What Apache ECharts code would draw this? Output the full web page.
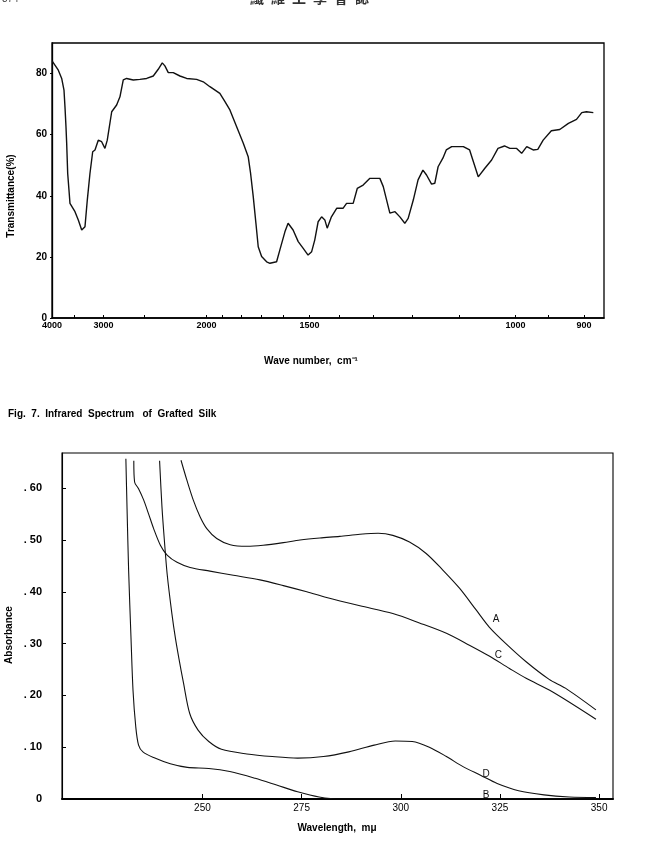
<!DOCTYPE html>
<html>
<head>
<meta charset="utf-8">
<script src="https://cdn.jsdelivr.net/npm/echarts@6/dist/echarts.min.js"></script>
<style>
  html, body { margin: 0; padding: 0; background: #fff; }
  #chart { width: 666px; height: 841px; }
</style>
</head>
<body>
<div id="chart"></div>
<script>
// ---- Fig. 7: IR spectrum (x read in wave number, plotted linear in wavelength) ----
const irWavenumber = [3990, 3967, 3843, 3764, 3712, 3690, 3668, 3653, 3631, 3604, 3583, 3482, 3418, 3355, 3326, 3296, 3256, 3211, 3166, 3129,
  3078, 3027, 2979, 2946, 2885, 2820, 2778, 2737, 2697, 2621, 2549, 2480, 2416, 2370, 2334, 2311, 2282, 2241, 2188, 2137,
  2066, 2021, 1978, 1917, 1887, 1859, 1822, 1787, 1762, 1750, 1737, 1724, 1713, 1697, 1674, 1659, 1630, 1616, 1595, 1582,
  1562, 1542, 1523, 1505, 1492, 1481, 1469, 1457, 1446, 1438, 1424, 1407, 1387, 1376, 1356, 1344, 1327, 1308, 1281, 1272,
  1255, 1242, 1230, 1218, 1210, 1198, 1187, 1176, 1168, 1157, 1150, 1143, 1133, 1126, 1115, 1092, 1080, 1074, 1064, 1052,
  1040, 1029, 1018, 1009, 998, 990, 982, 972, 965, 957, 945, 933, 921, 910, 903, 897, 888];
const irTransmittance = [84.0, 83.5, 81.1, 78.4, 74.6, 69.1, 62.6, 57.2, 47.3, 41.9, 37.5, 34.8, 32.1, 28.8, 28.2, 29.9, 38.6, 47.3, 54.4, 55.0,
  58.2, 57.7, 55.5, 58.2, 67.5, 69.7, 72.4, 77.9, 78.4, 77.9, 78.1, 78.4, 79.2, 81.4, 83.5, 82.5, 80.3, 80.3, 79.2, 78.4,
  78.1, 77.3, 75.7, 73.5, 70.8, 68.1, 62.6, 57.2, 52.8, 47.3, 39.7, 31.0, 23.3, 20.1, 18.4, 17.9, 18.4, 22.3, 28.2, 31.0,
  28.8, 25.0, 22.8, 20.6, 21.7, 25.5, 31.5, 33.1, 32.1, 29.4, 33.1, 35.9, 35.9, 37.5, 37.5, 42.4, 43.5, 45.7, 45.7, 43.0,
  34.3, 34.8, 33.1, 31.0, 32.6, 38.6, 45.2, 48.4, 46.8, 43.8, 44.1, 49.5, 52.3, 55.0, 56.1, 56.1, 55.0, 51.7, 46.2, 49.0,
  51.7, 55.5, 56.3, 55.5, 55.5, 53.9, 56.1, 55.0, 55.2, 58.2, 61.3, 61.7, 63.7, 65.0, 67.2, 67.5, 67.2];
const irTickWavenumbers = [4000, 3500, 3000, 2500, 2000, 1900, 1800, 1700, 1600, 1500, 1400, 1300, 1200, 1100, 1000, 950, 900];
const irLabelWavenumbers = [4000, 3000, 2000, 1500, 1000, 900];
const transmittanceTicks = [0, 20, 40, 60, 80];

// ---- UV absorbance curves ----
const curveA_nm = [244.6, 246.1, 247.7, 249.4, 251.1, 253.6, 257.0, 261.2, 265.3, 270.4, 274.6, 279.6, 284.6, 289.7, 294.3, 298.0,
  302.2, 306.4, 310.6, 314.8, 319.0, 322.3, 326.5, 331.6, 337.4, 341.5, 349.2];
const curveA_abs = [0.654, 0.615, 0.577, 0.545, 0.522, 0.503, 0.491, 0.488, 0.490, 0.495, 0.500, 0.504, 0.507, 0.511, 0.513, 0.509,
  0.496, 0.474, 0.442, 0.407, 0.365, 0.332, 0.300, 0.265, 0.231, 0.214, 0.172];
const curveB_nm = [230.7, 231.0, 231.4, 232.0, 232.5, 233.2, 233.9, 235.0, 237.7, 241.9, 246.2, 251.6, 256.9, 263.3, 268.7, 274.0,
  279.4, 284.7, 350.0];
const curveB_abs = [0.657, 0.560, 0.440, 0.310, 0.210, 0.139, 0.104, 0.091, 0.080, 0.068, 0.061, 0.059, 0.053, 0.040, 0.027, 0.014,
  0.004, 0.000, 0.000];
const curveC_nm = [232.7, 232.9, 233.9, 235.2, 236.4, 237.7, 239.4, 241.1, 243.6, 246.9, 251.9, 257.8, 264.5, 270.4, 276.3, 281.3,
  289.7, 298.0, 304.7, 311.5, 317.3, 322.3, 327.4, 331.6, 338.2, 349.2];
const curveC_abs = [0.653, 0.612, 0.599, 0.577, 0.551, 0.522, 0.490, 0.471, 0.457, 0.447, 0.440, 0.432, 0.423, 0.412, 0.400, 0.389,
  0.373, 0.358, 0.340, 0.320, 0.297, 0.276, 0.252, 0.233, 0.207, 0.154];
const curveD_nm = [239.2, 239.8, 240.4, 241.1, 242.3, 243.2, 244.1, 245.2, 246.8, 248.9, 251.6, 254.8, 261.2, 267.6, 274.0, 280.5,
  286.9, 293.3, 298.6, 302.9, 307.2, 311.5, 315.8, 320.1, 324.3, 329.7, 336.1, 342.5, 349.2];
const curveD_abs = [0.653, 0.564, 0.500, 0.435, 0.358, 0.310, 0.270, 0.225, 0.165, 0.133, 0.111, 0.096, 0.087, 0.082, 0.079, 0.082,
  0.091, 0.104, 0.112, 0.111, 0.100, 0.082, 0.062, 0.046, 0.030, 0.016, 0.008, 0.004, 0.003];
const curveNames = ['A', 'B', 'C', 'D'];
const curveLabelAt = [[324.0, 0.347], [321.5, 0.008], [324.6, 0.278], [321.5, 0.048]];
const wavelengthTicks = [250, 275, 300, 325, 350];
const absorbanceTicks = [0, 0.1, 0.2, 0.3, 0.4, 0.5, 0.6];

const toMicron = wn => 10000 / wn;
const pairs = (xs, ys) => xs.map((x, i) => [x, ys[i]]);

const FONT = 'Liberation Sans, Arial, sans-serif';
const INK = '#111';

const chart = echarts.init(document.getElementById('chart'), null, { renderer: 'canvas' });

const uvCurves = [[curveA_nm, curveA_abs], [curveB_nm, curveB_abs], [curveC_nm, curveC_abs], [curveD_nm, curveD_abs]];

const uvSeries = uvCurves.map((c, i) => ({
  name: curveNames[i],
  type: 'line',
  xAxisIndex: 1,
  yAxisIndex: 1,
  data: pairs(c[0], c[1]),
  showSymbol: false,
  smooth: 0.3,
  lineStyle: { color: INK, width: 1.1 },
  markPoint: {
    symbol: 'circle',
    symbolSize: 0,
    silent: true,
    label: { show: true, formatter: curveNames[i], color: INK, fontFamily: FONT, fontSize: 10 },
    data: [{ coord: curveLabelAt[i] }]
  }
}));

const option = {
  animation: false,
  backgroundColor: '#fff',
  grid: [
    { left: 52, top: 43, width: 552, height: 275, show: true, borderColor: '#000', borderWidth: 1.3 },
    { left: 62, top: 453, width: 551, height: 346, show: true, borderColor: '#000', borderWidth: 1.1 }
  ],
  xAxis: [
    {
      type: 'value', gridIndex: 0, min: 2.5, max: 11.434,
      axisLine: { show: true, lineStyle: { color: '#000', width: 1.5 } },
      axisTick: { show: true, inside: true, length: 3, customValues: irTickWavenumbers.map(toMicron), lineStyle: { color: '#000' } },
      axisLabel: {
        customValues: irLabelWavenumbers.map(toMicron),
        formatter: v => String(Math.round(10000 / v)),
        color: '#000', fontFamily: FONT, fontSize: 9, fontWeight: 'bold', margin: 3
      },
      splitLine: { show: false }
    },
    {
      type: 'value', gridIndex: 1, min: 214.6, max: 353.5,
      axisLine: { show: true, lineStyle: { color: '#000', width: 2 } },
      axisTick: { show: true, inside: true, length: 5, customValues: wavelengthTicks, lineStyle: { color: '#000' } },
      axisLabel: { customValues: wavelengthTicks, color: '#000', fontFamily: FONT, fontSize: 10, margin: 4 },
      splitLine: { show: false }
    }
  ],
  yAxis: [
    {
      type: 'value', gridIndex: 0, min: 0, max: 90,
      axisLine: { show: true, lineStyle: { color: '#000', width: 1.3 } },
      axisTick: { show: true, inside: false, length: 2, customValues: transmittanceTicks, lineStyle: { color: '#000' } },
      axisLabel: { customValues: transmittanceTicks, color: '#000', fontFamily: FONT, fontSize: 10, fontWeight: 'bold', margin: 5 },
      splitLine: { show: false }
    },
    {
      type: 'value', gridIndex: 1, min: 0, max: 0.668,
      axisLine: { show: true, lineStyle: { color: '#000', width: 1.1 } },
      axisTick: { show: true, inside: true, length: 4, customValues: absorbanceTicks, lineStyle: { color: '#000' } },
      axisLabel: {
        customValues: absorbanceTicks,
        formatter: v => (v === 0 ? '0' : '. ' + Math.round(v * 100)),
        color: '#000', fontFamily: FONT, fontSize: 11, fontWeight: 'bold', margin: 20,
        padding: [0, 0, 12, 0]
      },
      splitLine: { show: false }
    }
  ],
  series: [
    {
      name: 'IR',
      type: 'line',
      xAxisIndex: 0,
      yAxisIndex: 0,
      data: irWavenumber.map((wn, i) => [toMicron(wn), irTransmittance[i]]),
      showSymbol: false,
      lineStyle: { color: INK, width: 1.4 }
    },
    ...uvSeries
  ],
  graphic: [
    { type: 'text', left: 2, top: -6, style: { text: '374', fontSize: 10, fontFamily: FONT, fill: '#444' } },
    { type: 'text', left: 250, top: -9, style: { text: '纖\u2002維\u2002工\u2002學\u2002會\u2002誌', fontSize: 14, fontFamily: 'Noto Sans CJK TC', fontWeight: 'bold', fill: '#333' } },
    { type: 'text', x: 11, y: 196, rotation: Math.PI / 2,
      style: { text: 'Transmittance(%)', fontSize: 10, fontWeight: 'bold', fontFamily: FONT, fill: '#000', align: 'center', verticalAlign: 'middle' } },
    { type: 'text', x: 311, y: 361,
      style: { text: 'Wave number,  cm⁻¹', fontSize: 10, fontWeight: 'bold', fontFamily: FONT, fill: '#000', align: 'center', verticalAlign: 'middle' } },
    { type: 'text', x: 8, y: 414,
      style: { text: 'Fig.  7.  Infrared  Spectrum   of  Grafted  Silk', fontSize: 10, fontWeight: 'bold', fontFamily: FONT, fill: '#000', align: 'left', verticalAlign: 'middle' } },
    { type: 'text', x: 9, y: 635, rotation: Math.PI / 2,
      style: { text: 'Absorbance', fontSize: 10, fontWeight: 'bold', fontFamily: FONT, fill: '#000', align: 'center', verticalAlign: 'middle' } },
    { type: 'text', x: 337, y: 828,
      style: { text: 'Wavelength,  mμ', fontSize: 10, fontWeight: 'bold', fontFamily: FONT, fill: '#000', align: 'center', verticalAlign: 'middle' } }
  ]
};

chart.setOption(option);
</script>
</body>
</html>
